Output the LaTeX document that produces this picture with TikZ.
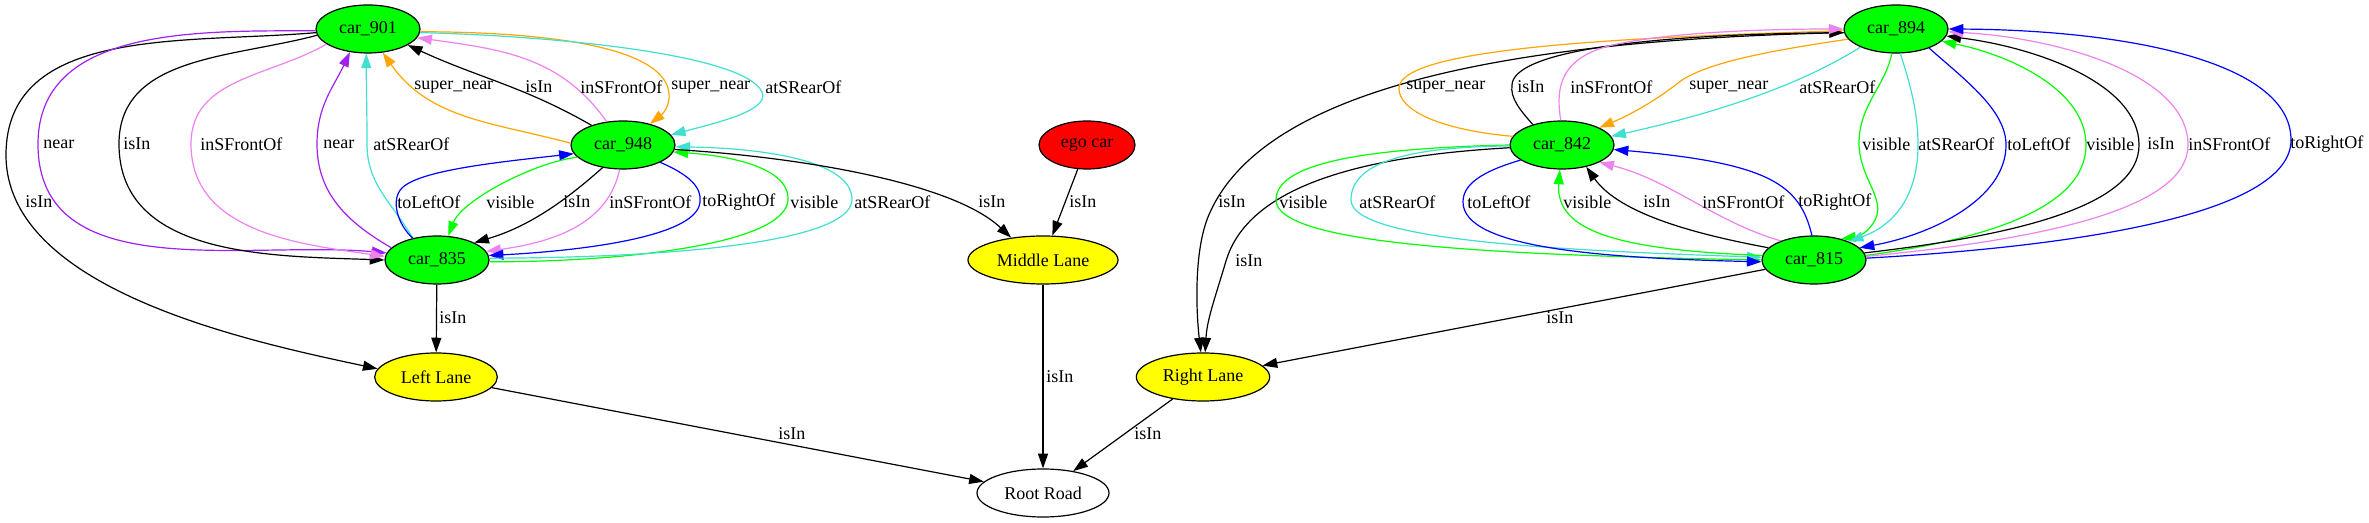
\documentclass[tikz,border=0pt]{standalone}
\usepackage{fontspec}
\setmainfont{Liberation Serif}
\usetikzlibrary{shapes.geometric,arrows.meta}
\definecolor{gvgreen}{HTML}{00FF00}
\definecolor{gvyellow}{HTML}{FFFF00}
\definecolor{gvred}{HTML}{FF0000}
\definecolor{gvpurple}{HTML}{A020F0}
\definecolor{gvviolet}{HTML}{EE82EE}
\definecolor{gvorange}{HTML}{FFA500}
\definecolor{gvturq}{HTML}{40E0D0}
\definecolor{gvblue}{HTML}{0000FF}
\begin{document}
\begin{tikzpicture}[x=0.75pt,y=-0.75pt,
  every node/.style={font=\fontsize{13.5}{15}\selectfont},
  gvnode/.style={ellipse,draw,line width=0.9pt,minimum height=36pt,inner sep=0pt},
  car/.style={gvnode,fill=gvgreen,minimum width=78pt},
  lane/.style={gvnode,fill=gvyellow},
  ed/.style={line width=0.9pt,-{Triangle[length=11pt,width=7.5pt]}},
  lb/.style={anchor=west,inner sep=0pt}]
\useasboundingbox (0,0) rectangle (2369,523);
\fill[white] (0,0) rectangle (2369,523);
% nodes
\node[car] (n901) at (368,29) {car\_901};
\node[car] (n948) at (623,145) {car\_948};
\node[car] (n835) at (437,260) {car\_835};
\node[gvnode,fill=gvred,minimum width=72pt] (nego) at (1087,145) {ego car};
\node[lane,minimum width=112.5pt] (nML) at (1043,260) {Middle Lane};
\node[lane,minimum width=92pt] (nLL) at (436,377) {Left Lane};
\node[lane,minimum width=100pt] (nRL) at (1203,377) {Right Lane};
\node[gvnode,fill=white,minimum width=99pt] (nRR) at (1043,493) {Root Road};
\node[car] (n894) at (1896,29) {car\_894};
\node[car] (n842) at (1562,145) {car\_842};
\node[car] (n815) at (1814,260) {car\_815};
% ---- left cluster: car_901 <-> car_835 and Left Lane
\draw[ed] (n901.184) to[out=185,in=90] (6,155) to[out=-90,in=168,looseness=0.8] (nLL.172);
\draw[ed,gvpurple] (n901.182) to[out=180,in=90] (38,144) to[out=-90,in=175] (n835.172);
\draw[ed] (n901.187) to[out=195,in=90] (119,144) to[out=-90,in=178] (n835.180);
\draw[ed,gvviolet] (n901.200) to[out=210,in=90] (191,144) to[out=-90,in=172] (n835.176);
\draw[ed,gvpurple] (n835.165) to[out=150,in=-90] (317,144) to[out=90,in=245] (n901.232);
\draw[ed,gvturq] (n835.138) to[out=120,in=-90] (367,144) to[out=90,in=-90] (n901.266);
% car_948 <-> car_901
\draw[ed,gvorange] (n948.178) to[out=165,in=-55] (n901.302);
\draw[ed] (n948.148) .. controls (523,86) and (479,78) .. (n901.338);
\draw[ed,gvviolet] (n948.125) .. controls (560,55) and (497,49) .. (n901.350);
\draw[ed,gvorange] (n901.-3) .. controls (540,32) and (655,45) .. (668,88) .. controls (672,101) and (665,112) .. (n948.38);
\draw[ed,gvturq] (n901.-4) .. controls (560,36) and (745,55) .. (762,92) .. controls (770,110) and (720,122) .. (n948.12);
% car_948 <-> car_835
\draw[ed,gvblue] (n835.138) .. controls (398,225) and (390,200) .. (402,188) .. controls (420,170) and (500,162) .. (n948.190);
\draw[ed,gvgreen] (n948.195) .. controls (535,162) and (462,200) .. (n835.65);
\draw[ed] (n948.228) .. controls (575,192) and (535,225) .. (n835.25);
\draw[ed,gvviolet] (n948.262) .. controls (610,215) and (570,240) .. (n835.10);
\draw[ed,gvblue] (n948.335) .. controls (690,175) and (702,188) .. (700,202) .. controls (697,240) and (560,252) .. (n835.5);
\draw[ed,gvgreen] (n835.358) .. controls (620,262) and (785,245) .. (788,200) .. controls (790,165) and (720,155) .. (n948.352);
\draw[ed,gvturq] (n835.2) .. controls (650,258) and (850,245) .. (852,200) .. controls (853,160) and (760,148) .. (n948.358);
% middle
\draw[ed] (n948.355) .. controls (786,156) and (950,180) .. (nML.145);
\draw[ed] (nego) -- (nML);
\draw[ed] (nML) -- (nRR);
\draw[ed] (n835) -- (nLL);
\draw[ed] (nLL) -- (nRR);
\draw[ed] (nRL) -- (nRR);
\draw[ed] (n815) -- (nRL);
% ---- right cluster
\draw[ed] (n894.184) .. controls (1500,40) and (1260,90) .. (1208,217) .. controls (1194,252) and (1196,310) .. (nRL.95);
\draw[ed] (n842.183) .. controls (1380,155) and (1250,180) .. (1226,261) .. controls (1214,301) and (1207,320) .. (nRL.85);
% car_842 <-> car_894
\draw[ed,gvorange] (n842.170) .. controls (1440,130) and (1398,110) .. (1399,88) .. controls (1400,50) and (1600,38) .. (n894.182);
\draw[ed] (n842.145) .. controls (1520,110) and (1510,98) .. (1512,85) .. controls (1513,55) and (1620,35) .. (n894.184);
\draw[ed,gvviolet] (n842.93) .. controls (1557,95) and (1555,62) .. (1605,47) .. controls (1660,32) and (1770,29) .. (n894.180);
\draw[ed,gvorange] (n894.192) .. controls (1775,50) and (1705,62) .. (1678,83) .. controls (1655,101) and (1630,115) .. (n842.25);
\draw[ed,gvturq] (n894.207) .. controls (1800,85) and (1720,112) .. (n842.10);
% car_842 <-> car_815
\draw[ed,gvgreen] (n842.180) .. controls (1380,148) and (1276,160) .. (1276,200) .. controls (1276,245) and (1500,255) .. (n815.180);
\draw[ed,gvturq] (n842.181) .. controls (1400,147) and (1351,165) .. (1351,200) .. controls (1351,240) and (1550,250) .. (n815.177);
\draw[ed,gvblue] (n842.200) .. controls (1480,172) and (1463,185) .. (1463,202) .. controls (1463,248) and (1600,258) .. (n815.182);
\draw[ed,gvgreen] (n815.175) .. controls (1620,250) and (1555,232) .. (n842.265);
\draw[ed] (n815.165) .. controls (1700,235) and (1620,215) .. (n842.318);
\draw[ed,gvviolet] (n815.150) .. controls (1715,222) and (1670,180) .. (n842.335);
\draw[ed,gvblue] (n815.95) .. controls (1800,185) and (1770,163) .. (n842.355);
% car_894 <-> car_815
\draw[ed,gvgreen] (n894.260) .. controls (1886,85) and (1859,105) .. (1859,143) .. controls (1859,175) and (1882,195) .. (1877,215) .. controls (1873,228) and (1862,236) .. (n815.38);
\draw[ed,gvturq] (n894.280) .. controls (1912,90) and (1918,115) .. (1918,145) .. controls (1918,195) and (1895,225) .. (n815.28);
\draw[ed,gvblue] (n894.330) .. controls (1965,80) and (2006,110) .. (2006,145) .. controls (2006,200) and (1930,235) .. (n815.15);
\draw[ed,gvgreen] (n815.5) .. controls (1980,240) and (2086,210) .. (2086,145) .. controls (2086,90) and (2010,55) .. (n894.345);
\draw[ed] (n815.8) .. controls (2020,235) and (2139,205) .. (2139,145) .. controls (2139,85) and (2040,48) .. (n894.352);
\draw[ed,gvviolet] (n815.4) .. controls (2060,238) and (2188,205) .. (2188,145) .. controls (2188,75) and (2060,38) .. (n894.357);
\draw[ed,gvblue] (n815.2) .. controls (2100,245) and (2291,210) .. (2291,140) .. controls (2291,60) and (2120,30) .. (n894.0);
% ---- labels
\node[lb] (t01) at (43,144) {near};
\node[lb] (t02) at (123,144) {isIn};
\node[lb] (t03) at (200,144) {inSFrontOf};
\node[lb] (t04) at (323,144) {near};
\node[lb] (t05) at (373,144) {atSRearOf};
\node[lb] (t06) at (25,202) {isIn};
\node[lb] (t07) at (414,87) {super\_near};
\node[lb] (t08) at (525,87) {isIn};
\node[lb] (t09) at (580,87) {inSFrontOf};
\node[lb] (t10) at (671,87) {super\_near};
\node[lb] (t11) at (765,87) {atSRearOf};
\node[lb] (t12) at (397,202) {toLeftOf};
\node[lb] (t13) at (486,202) {visible};
\node[lb] (t14) at (563,202) {isIn};
\node[lb] (t15) at (609,202) {inSFrontOf};
\node[lb] (t16) at (702,202) {toRightOf};
\node[lb] (t17) at (790,202) {visible};
\node[lb] (t18) at (854,202) {atSRearOf};
\node[lb] (t19) at (978,202) {isIn};
\node[lb] (t20) at (1069,202) {isIn};
\node[lb] (t21) at (1046,377) {isIn};
\node[lb] (t22) at (439,318) {isIn};
\node[lb] (t23) at (778,434) {isIn};
\node[lb] (t24) at (1134,434) {isIn};
\node[lb] (t25) at (1218,202) {isIn};
\node[lb] (t26) at (1235,261) {isIn};
\node[lb] (t27) at (1406,87) {super\_near};
\node[lb] (t28) at (1517,87) {isIn};
\node[lb] (t29) at (1570,87) {inSFrontOf};
\node[lb] (t30) at (1689,87) {super\_near};
\node[lb] (t31) at (1799,87) {atSRearOf};
\node[lb] (t32) at (1279,202) {visible};
\node[lb] (t33) at (1359,202) {atSRearOf};
\node[lb] (t34) at (1467,202) {toLeftOf};
\node[lb] (t35) at (1563,202) {visible};
\node[lb] (t36) at (1643,202) {isIn};
\node[lb] (t37) at (1702,202) {inSFrontOf};
\node[lb] (t38) at (1798,202) {toRightOf};
\node[lb] (t39) at (1862,144) {visible};
\node[lb] (t40) at (1918,144) {atSRearOf};
\node[lb] (t41) at (2007,144) {toLeftOf};
\node[lb] (t42) at (2086,144) {visible};
\node[lb] (t43) at (2147,144) {isIn};
\node[lb] (t44) at (2188,144) {inSFrontOf};
\node[lb] (t45) at (2290,144) {toRightOf};
\node[lb] (t46) at (1546,318) {isIn};
\end{tikzpicture}
\end{document}
